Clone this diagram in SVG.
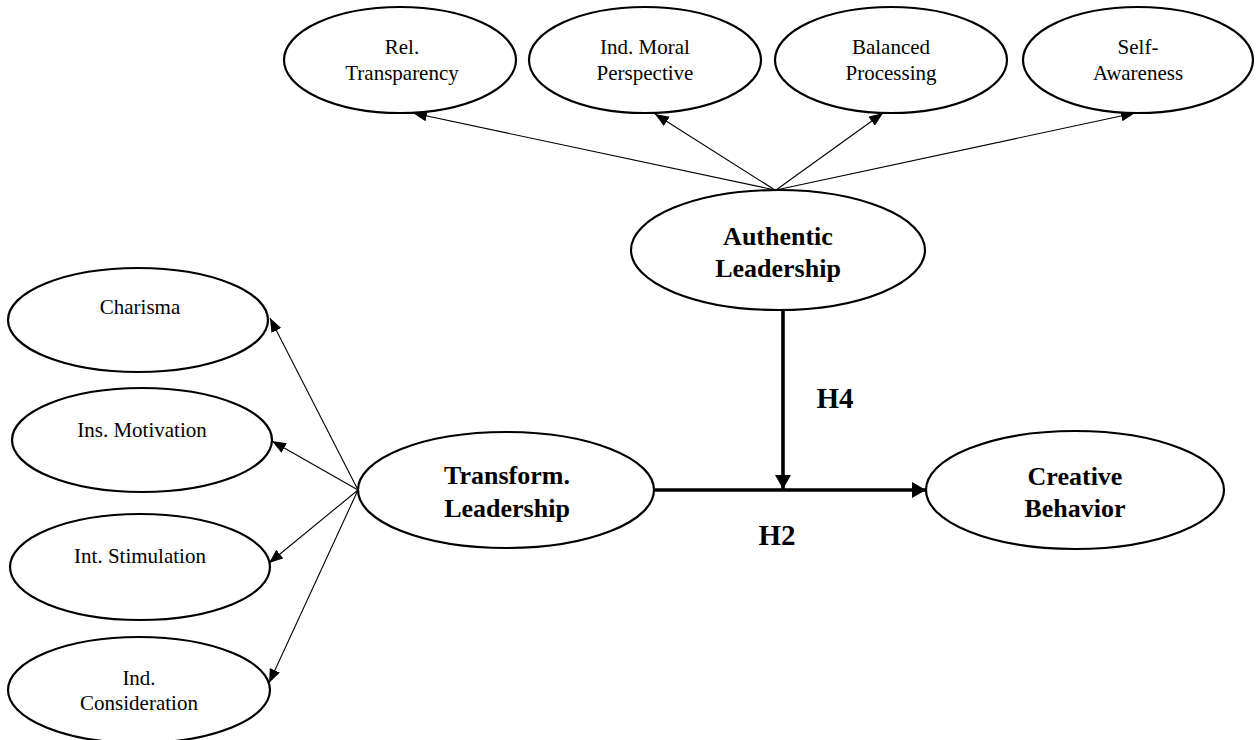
<svg xmlns="http://www.w3.org/2000/svg" width="1256" height="740" viewBox="0 0 1256 740">
<style>
.n ellipse{fill:#fff;stroke:#000;stroke-width:2.2}
.s{font-family:"Liberation Serif","Times New Roman",serif;font-size:21px;fill:#000;text-anchor:middle}
.b{font-family:"Liberation Serif","Times New Roman",serif;font-size:26px;font-weight:bold;fill:#000;text-anchor:middle}
.h{font-family:"Liberation Serif","Times New Roman",serif;font-size:29px;font-weight:bold;fill:#000;text-anchor:middle}
.thin{stroke:#000;stroke-width:1.1;fill:none}
.thick{stroke:#000;stroke-width:3.6;fill:none}
</style>
<defs>
<marker id="a" markerUnits="userSpaceOnUse" markerWidth="16" markerHeight="12" refX="14" refY="5.5" orient="auto"><path d="M0,0 L14,5.5 L0,11 z" fill="#000"/></marker>
<marker id="A" markerUnits="userSpaceOnUse" markerWidth="16" markerHeight="18" refX="14" refY="8" orient="auto"><path d="M0,0 L14,8 L0,16 z" fill="#000"/></marker>
</defs>
<rect width="1256" height="740" fill="#fff"/>
<g id="connectors">
<line class="thin" x1="775" y1="190" x2="413" y2="113" marker-end="url(#a)"/>
<line class="thin" x1="775" y1="190" x2="655" y2="114" marker-end="url(#a)"/>
<line class="thin" x1="776" y1="190" x2="883" y2="113" marker-end="url(#a)"/>
<line class="thin" x1="776" y1="190" x2="1135" y2="113" marker-end="url(#a)"/>
<line class="thin" x1="358" y1="490" x2="270" y2="318" marker-end="url(#a)"/>
<line class="thin" x1="358" y1="490" x2="272" y2="441" marker-end="url(#a)"/>
<line class="thin" x1="358" y1="490" x2="269" y2="563" marker-end="url(#a)"/>
<line class="thin" x1="358" y1="490" x2="269" y2="683" marker-end="url(#a)"/>
<line class="thick" x1="655" y1="490" x2="926" y2="490" marker-end="url(#A)"/>
<line class="thick" x1="783" y1="310" x2="783" y2="489" marker-end="url(#A)"/>
<text class="h" x="835" y="408">H4</text>
<text class="h" x="777" y="545">H2</text>
</g>
<g id="rel" class="n"><ellipse cx="400" cy="60" rx="116" ry="53"/><text class="s" x="402" y="54">Rel.</text><text class="s" x="402" y="80">Transparency</text></g>
<g id="moral" class="n"><ellipse cx="645" cy="60" rx="116" ry="53"/><text class="s" x="645" y="54">Ind. Moral</text><text class="s" x="645" y="80">Perspective</text></g>
<g id="balanced" class="n"><ellipse cx="891" cy="60" rx="116" ry="53"/><text class="s" x="891" y="54">Balanced</text><text class="s" x="891" y="80">Processing</text></g>
<g id="selfaware" class="n"><ellipse cx="1138" cy="60" rx="115" ry="53"/><text class="s" x="1138" y="54">Self-</text><text class="s" x="1138" y="80">Awareness</text></g>
<g id="authentic" class="n"><ellipse cx="778" cy="250" rx="147" ry="60"/><text class="b" x="778" y="245">Authentic</text><text class="b" x="778" y="277">Leadership</text></g>
<g id="charisma" class="n"><ellipse cx="138" cy="320" rx="130" ry="52"/><text class="s" x="140" y="314">Charisma</text></g>
<g id="motivation" class="n"><ellipse cx="142" cy="440" rx="130" ry="52"/><text class="s" x="142" y="437">Ins. Motivation</text></g>
<g id="stimulation" class="n"><ellipse cx="140" cy="567" rx="130" ry="53"/><text class="s" x="140" y="563">Int. Stimulation</text></g>
<g id="consideration" class="n"><ellipse cx="139" cy="690" rx="131" ry="53"/><text class="s" x="139" y="685">Ind.</text><text class="s" x="139" y="710">Consideration</text></g>
<g id="transform" class="n"><ellipse cx="506" cy="490" rx="148" ry="58"/><text class="b" x="507" y="484">Transform.</text><text class="b" x="507" y="517">Leadership</text></g>
<g id="creative" class="n"><ellipse cx="1075" cy="490" rx="149" ry="59"/><text class="b" x="1075" y="485">Creative</text><text class="b" x="1075" y="517">Behavior</text></g>
</svg>
